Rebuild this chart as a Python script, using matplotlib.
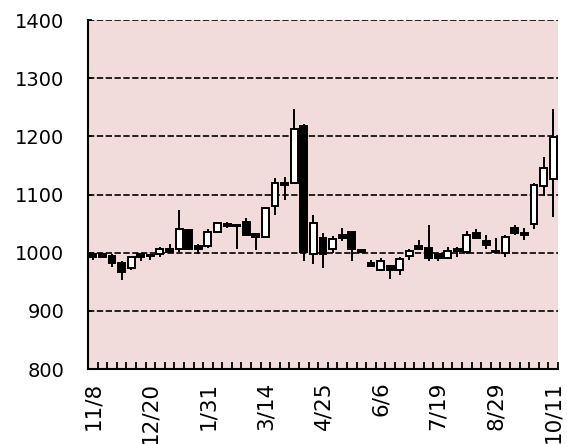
import matplotlib
matplotlib.use("Agg")
import matplotlib.pyplot as plt
import numpy as np

labels = ['11/8', '12/20', '1/31', '3/14', '4/25', '6/6', '7/19', '8/29', '10/11']
opens = [998, 997, 995, 982, 973, 997, 996, 998, 1006, 1007,
         1039, 1012, 1011, 1035, 1050, 1048, 1052, 1032, 1027, 1080,
         1120, 1120, 1217, 998, 1025, 1007, 1031, 1035, 1004, 983,
         970, 977, 971, 994, 1012, 1008, 997, 991, 1007, 1002,
         1034, 1020, 1003, 1000, 1043, 1034, 1049, 1114, 1127]
highs = [1001, 999, 998, 985, 995, 1000, 998, 1010, 1015, 1073,
         1041, 1015, 1041, 1053, 1053, 1050, 1060, 1034, 1078, 1128,
         1130, 1247, 1222, 1065, 1034, 1029, 1042, 1037, 1006, 987,
         990, 979, 992, 1007, 1022, 1047, 999, 1010, 1009, 1038,
         1040, 1030, 1025, 1030, 1047, 1043, 1119, 1165, 1247]
lows = [988, 990, 975, 953, 970, 985, 988, 993, 1000, 1002,
        1005, 997, 1008, 1033, 1043, 1007, 1028, 1005, 1025, 1065,
        1090, 1118, 985, 981, 973, 1000, 1020, 985, 1000, 975,
        968, 954, 962, 987, 1004, 985, 985, 989, 993, 998,
        1024, 1007, 999, 993, 1031, 1022, 1040, 1097, 1062]
closes = [993, 992, 982, 966, 993, 993, 994, 1006, 1002, 1041,
          1007, 1006, 1035, 1051, 1046, 1046, 1030, 1027, 1076, 1120,
          1116, 1213, 1002, 1051, 997, 1024, 1026, 1007, 1002, 977,
          985, 971, 989, 1003, 1006, 990, 991, 1003, 1003, 1031,
          1025, 1013, 1001, 1027, 1033, 1031, 1117, 1145, 1199]

o = np.array(opens, float)
h = np.array(highs, float)
l = np.array(lows, float)
c = np.array(closes, float)
x = np.arange(len(o))

fig = plt.figure(figsize=(5.67, 4.44), dpi=100)
ax = fig.add_axes([88/567, 1-369/444, (558-88)/567, (369-20)/444])
ax.set_facecolor('#F2DCDB')

ax.set_xlim(-0.5, len(o) - 0.5)
ax.set_ylim(800, 1400)

for yv in range(900, 1401, 100):
    ax.axhline(yv, color='black', lw=1.2, ls=(0, (3.8, 1.5)), zorder=1)

ax.vlines(x, l, h, color='black', lw=1.4, zorder=2)
bottoms = np.minimum(o, c)
heights = np.abs(c - o)
colors = ['white' if cc >= oo else 'black' for oo, cc in zip(o, c)]
ax.bar(x, heights, bottom=bottoms, width=0.72, color=colors,
       edgecolor='black', linewidth=1.4, zorder=3)

for s in ['top', 'right']:
    ax.spines[s].set_visible(False)
for s in ['left', 'bottom']:
    ax.spines[s].set_linewidth(1.5)
    ax.spines[s].set_color('black')

ax.set_yticks(range(800, 1401, 100))
ax.tick_params(axis='y', direction='in', length=3, width=1.2, labelsize=14, pad=17)

ax.set_xticks(np.arange(0, len(o), 6))
ax.set_xticklabels(labels, rotation=90, fontsize=15.5)
ax.tick_params(axis='x', which='major', length=0, pad=9)
ax.set_xticks(np.arange(-0.5, len(o)), minor=True)
ax.tick_params(axis='x', which='minor', direction='in', length=5, width=1.3)

fig.savefig('out.png', dpi=100, facecolor='white')
